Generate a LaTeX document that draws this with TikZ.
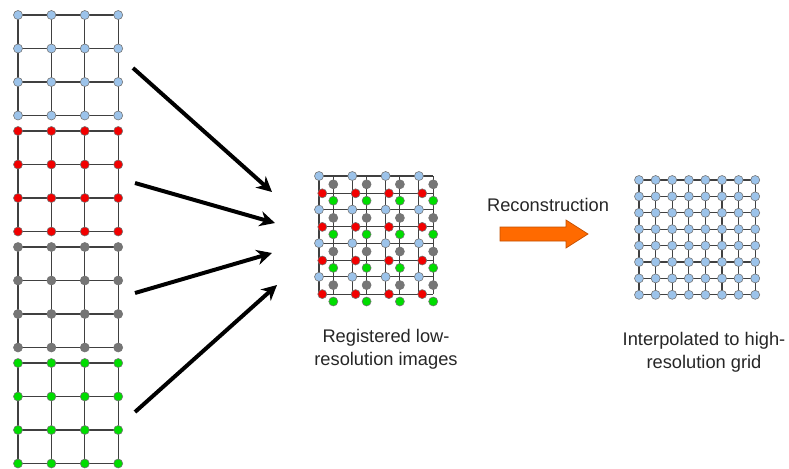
\documentclass[tikz,border=0pt]{standalone}
\usepackage{fontspec}
\setmainfont{Liberation Sans}
\usetikzlibrary{arrows.meta}
\definecolor{pixblue}{HTML}{9CC3EA}
\definecolor{pixred}{HTML}{F20000}
\definecolor{pixgray}{HTML}{767676}
\definecolor{pixgreen}{HTML}{00DD00}
\definecolor{reconfill}{HTML}{FF6A00}
\definecolor{reconedge}{HTML}{C24E00}
\tikzset{
  pixel/.style={
    circle, inner sep=0pt, minimum size=0.27cm,
    draw=black!55, line width=0.5pt
  },
  bluepix/.style={pixel, fill=pixblue},
  redpix/.style={pixel, fill=pixred},
  graypix/.style={pixel, fill=pixgray},
  greenpix/.style={pixel, fill=pixgreen},
  gridline/.style={line width=1pt, color=black!75},
  bigarrow/.style={
    -{Stealth[length=13pt,width=13pt]}, line width=3.4pt
  },
  caption/.style={
    font=\fontsize{15.6}{19.6}\selectfont, align=center, text=black!85,
    inner sep=0pt
  }
}

\begin{document}
\begin{tikzpicture}[x=0.03cm, y=-0.03cm]
    \useasboundingbox (0,0) rectangle (789,468);

    % Low-resolution images
    \foreach \c [count=\k from 0] in {bluepix, redpix, graypix, greenpix} {
      \begin{scope}[shift={(18,15+116*\k)}]
        \foreach \i in {0,...,3} {
          \draw[gridline] (0,33.5*\i) -- (100,33.5*\i);
          \draw[gridline] (33.4*\i,0) -- (33.4*\i,100.5);
        }
        \foreach \i in {0,...,3}
          \foreach \j in {0,...,3}
            \node[\c] (lr\k-\i-\j) at (33.4*\i,33.5*\j) {};
      \end{scope}
    }

    % Registered grid
    \begin{scope}[shift={(319,176)}]
      \foreach \i in {0,...,3} {
        \draw[gridline] (0,33.6*\i) -- (114,33.6*\i);
        \draw[gridline] (0,17.3+33.6*\i) -- (114,17.3+33.6*\i);
        \draw[gridline] (33.3*\i,0) -- (33.3*\i,118.1);
        \draw[gridline] (14.3+33.3*\i,0) -- (14.3+33.3*\i,118.1);
      }
      \foreach \i in {0,...,3}
        \foreach \j in {0,...,3} {
          \node[bluepix] (rb-\i-\j) at (33.3*\i,33.6*\j) {};
          \node[graypix] (rk-\i-\j) at (14.3+33.3*\i,8.3+33.6*\j) {};
          \node[redpix] (rr-\i-\j) at (3.3+33.3*\i,17.3+33.6*\j) {};
          \node[greenpix] (rg-\i-\j) at (14.3+33.3*\i,24.7+33.6*\j) {};
        }
    \end{scope}

    % High-resolution grid
    \begin{scope}[shift={(639,180)}]
      \foreach \i in {0,...,7} {
        \draw[gridline] (0,16.4*\i) -- (116.2,16.4*\i);
        \draw[gridline] (16.6*\i,0) -- (16.6*\i,114.8);
      }
      \foreach \i in {0,...,7}
        \foreach \j in {0,...,7}
          \node[bluepix] (hr-\i-\j) at (16.6*\i,16.4*\j) {};
    \end{scope}

    % Arrows into the registered grid
    \coordinate (s1) at (133,68);
    \coordinate (s2) at (135,183);
    \coordinate (s3) at (135,293);
    \coordinate (s4) at (135,412);
    \coordinate (e1) at (272,192);
    \coordinate (e2) at (275,223);
    \coordinate (e3) at (272,253);
    \coordinate (e4) at (277,285);
    \foreach \n in {1,...,4}
      \draw[bigarrow] (s\n) -- (e\n);

    % Reconstruction step
    \node[caption] (recon) at (548,205) {Reconstruction};
    \draw[fill=reconfill, draw=reconedge, line width=0.6pt]
      (500,227) -- (566,227) -- (566,220) -- (588,234)
      -- (566,248) -- (566,241) -- (500,241) -- cycle;

    % Captions
    \node[caption] (reglabel) at (386,349) {Registered low-\\resolution images};
    \node[caption] (hrlabel) at (704,352) {Interpolated to high-\\resolution grid};
\end{tikzpicture}
\end{document}
